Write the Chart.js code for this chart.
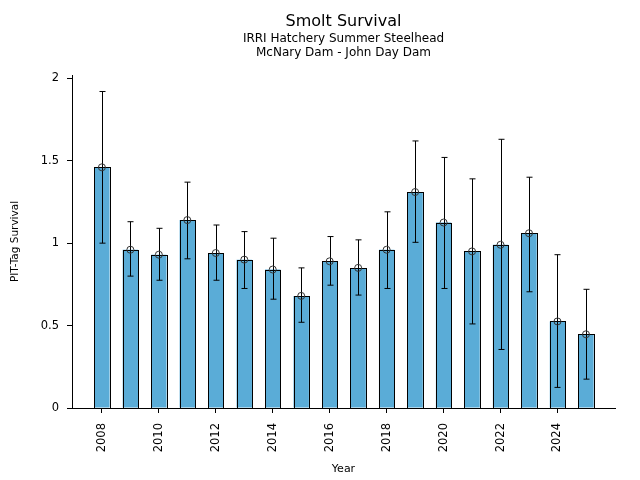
<!DOCTYPE html>
<html lang="en">
<head>
  <meta charset="UTF-8" />
  <title>Smolt Survival</title>
  <script src="https://cdn.jsdelivr.net/npm/chart.js"></script>
  <style>
    body {
      margin: 0;
      background: #fff;
    }
  </style>
</head>
<body>
  <canvas id="chart" width="640" height="480"></canvas>

  <script>
    // values
    const years = [2008, 2009, 2010, 2011, 2012, 2013, 2014, 2015, 2016,
                   2017, 2018, 2019, 2020, 2021, 2022, 2023, 2024, 2025];
    const survival = [1.46, 0.96, 0.93, 1.14, 0.94, 0.90, 0.84, 0.68, 0.89,
                      0.85, 0.96, 1.31, 1.125, 0.95, 0.99, 1.06, 0.525, 0.447];
    const upper = [1.92, 1.13, 1.09, 1.37, 1.11, 1.07, 1.03, 0.85, 1.04,
                   1.02, 1.19, 1.62, 1.52, 1.39, 1.63, 1.40, 0.93, 0.72];
    const lower = [1.00, 0.80, 0.775, 0.905, 0.775, 0.725, 0.66, 0.52, 0.745,
                   0.685, 0.725, 1.005, 0.725, 0.51, 0.355, 0.705, 0.125, 0.175];
    const xTicks = [2008, 2010, 2012, 2014, 2016, 2018, 2020, 2022, 2024];
    const yTicks = [0, 0.5, 1, 1.5, 2];

    const FONT = "'DejaVu Sans', sans-serif";

    // crisp bar outlines, then error bars with caps
    const errorBars = {
      id: "errorBars",
      afterDatasetDraw(chart, args) {
        if (args.index !== 0) return;
        const ctx = chart.ctx;
        const xs = chart.scales.x, ys = chart.scales.y;
        ctx.save();
        ctx.strokeStyle = "#000";
        ctx.lineWidth = 1;
        args.meta.data.forEach(bar => {
          const l = Math.round(bar.x - bar.width / 2) + 0.5;
          const r = Math.round(bar.x + bar.width / 2) + 0.5;
          const t = Math.round(bar.y) + 0.5;
          const b = Math.round(bar.base) + 0.5;
          ctx.strokeRect(l, t, r - l, b - t);
        });
        years.forEach((yr, i) => {
          const x = Math.round(xs.getPixelForValue(yr)) + 0.5;
          const top = ys.getPixelForValue(upper[i]);
          const bot = ys.getPixelForValue(lower[i]);
          ctx.beginPath();
          ctx.moveTo(x, top);
          ctx.lineTo(x, bot);
          ctx.moveTo(x - 3, top);
          ctx.lineTo(x + 3, top);
          ctx.moveTo(x - 3, bot);
          ctx.lineTo(x + 3, bot);
          ctx.stroke();
        });
        ctx.restore();
      }
    };

    // three-line title centred over the plot area
    const titles = {
      id: "titles",
      afterDraw(chart) {
        const ctx = chart.ctx;
        const cx = (chart.chartArea.left + chart.chartArea.right) / 2;
        ctx.save();
        ctx.fillStyle = "#000";
        ctx.textAlign = "center";
        ctx.textBaseline = "middle";
        ctx.font = "16px " + FONT;
        ctx.fillText("Smolt Survival", cx, 22);
        ctx.font = "12px " + FONT;
        ctx.fillText("IRRI Hatchery Summer Steelhead", cx, 38.5);
        ctx.fillText("McNary Dam - John Day Dam", cx, 52.5);
        ctx.restore();
      }
    };

    new Chart(document.getElementById("chart"), {
      type: "bar",
      data: {
        datasets: [
          {
            type: "bar",
            order: 2,
            data: years.map((y, i) => ({ x: y, y: survival[i] })),
            backgroundColor: "#5aacd7",
            borderWidth: 0,
            barPercentage: 0.54,
            categoryPercentage: 1.0
          },
          {
            type: "line",
            order: 1,
            data: years.map((y, i) => ({ x: y, y: survival[i] })),
            showLine: false,
            pointStyle: "circle",
            pointRadius: 3.5,
            pointBorderWidth: 1,
            pointBorderColor: "#333",
            pointBackgroundColor: "rgba(0,0,0,0)"
          }
        ]
      },
      options: {
        responsive: false,
        animation: false,
        layout: { padding: { top: 75, right: 25, left: 0, bottom: 0 } },
        plugins: {
          legend: { display: false },
          tooltip: { enabled: false }
        },
        scales: {
          x: {
            type: "linear",
            min: 2006.95,
            max: 2026.02,
            offset: false,
            afterFit(s) { s.height = 72; },
            afterBuildTicks(s) { s.ticks = xTicks.map(v => ({ value: v })); },
            grid: { display: true, drawOnChartArea: false, drawTicks: true, tickLength: 5, color: "#000", offset: false },
            border: { display: true, color: "#000", width: 1 },
            ticks: {
              minRotation: 90,
              maxRotation: 90,
              padding: 10,
              color: "#000",
              font: { family: FONT, size: 11.5 },
              callback: v => String(v)
            },
            title: {
              display: true,
              text: "Year",
              color: "#000",
              font: { family: FONT, size: 11 },
              padding: { top: 0, bottom: 4 }
            }
          },
          y: {
            min: 0,
            max: 2.02,
            afterFit(s) { s.width = 72; },
            afterBuildTicks(s) { s.ticks = yTicks.map(v => ({ value: v })); },
            grid: { display: true, drawOnChartArea: false, drawTicks: true, tickLength: 5, color: "#000" },
            border: { display: true, color: "#000", width: 1 },
            ticks: {
              padding: 8,
              color: "#000",
              font: { family: FONT, size: 11.5 },
              callback: v => String(v)
            },
            title: {
              display: true,
              text: "PIT-Tag Survival",
              color: "#000",
              font: { family: FONT, size: 10.5 },
              padding: { top: 9, bottom: 0 }
            }
          }
        }
      },
      plugins: [errorBars, titles]
    });
  </script>
</body>
</html>
